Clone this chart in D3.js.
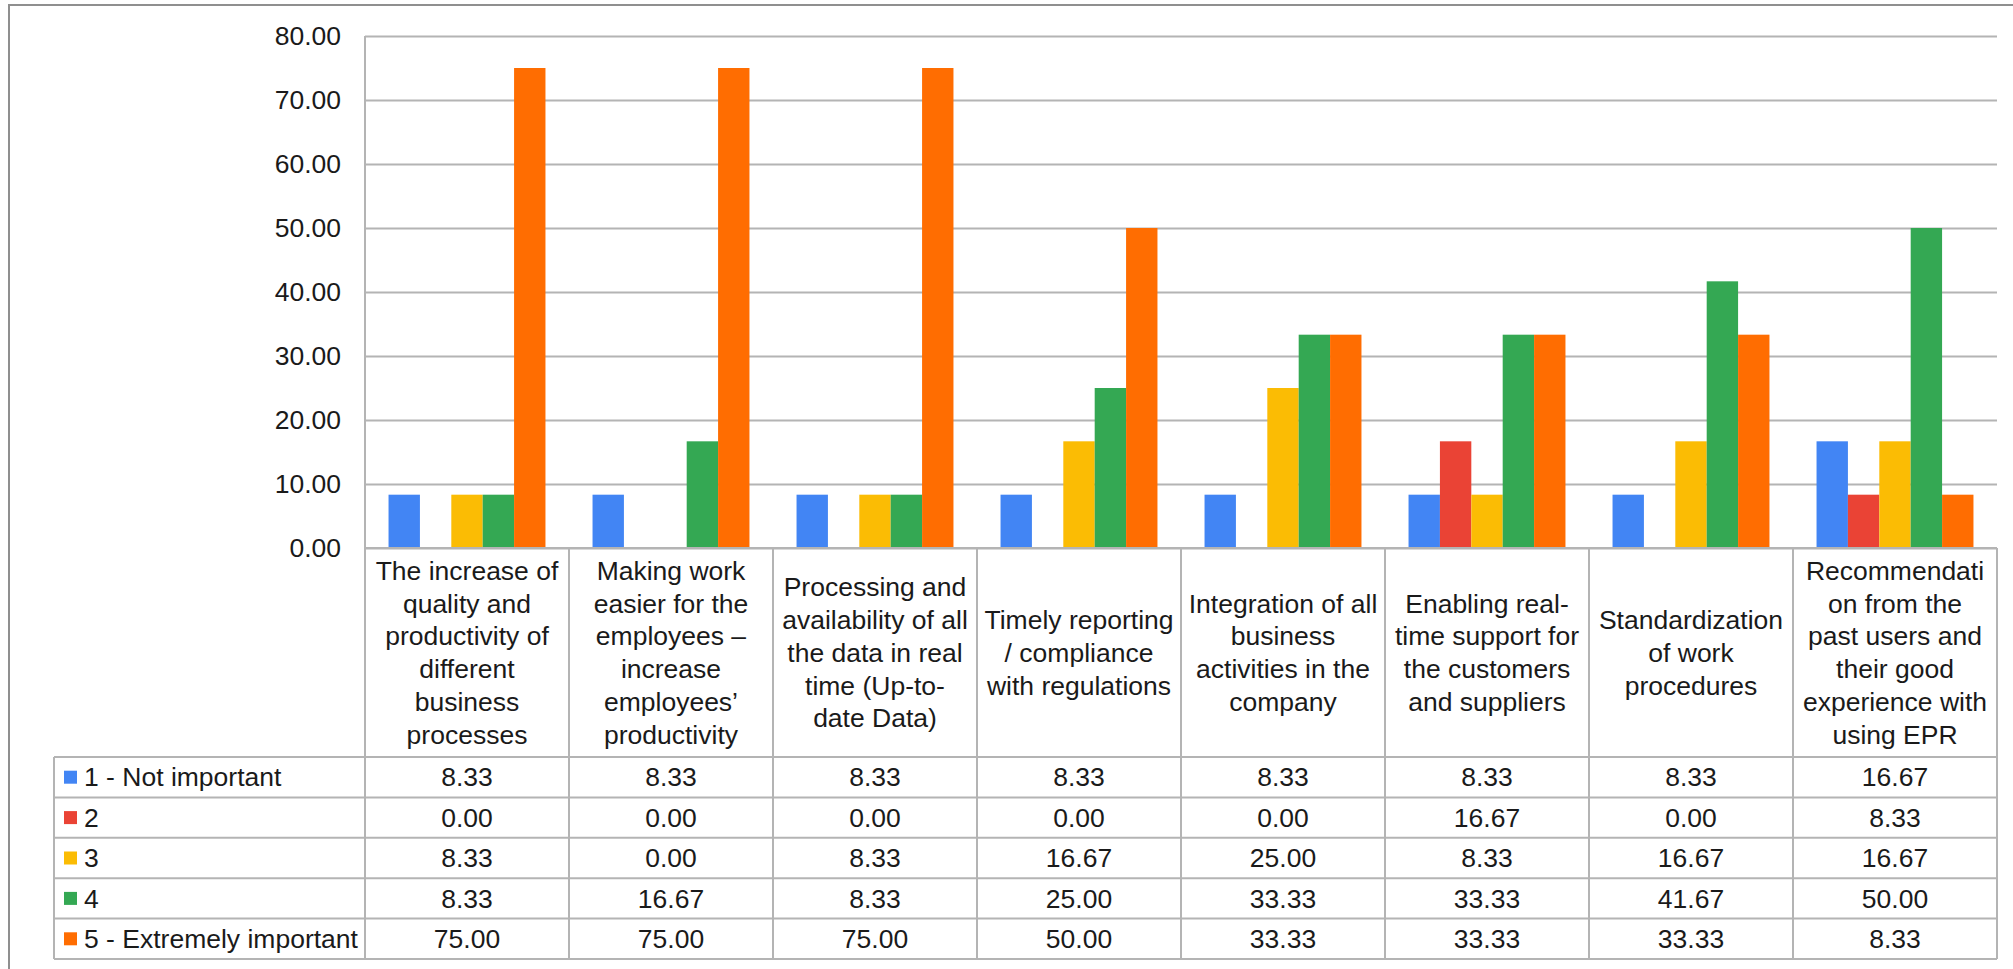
<!DOCTYPE html>
<html>
<head>
<meta charset="utf-8">
<script src="https://cdn.jsdelivr.net/npm/d3@7"></script>
<style>
  html, body { margin: 0; padding: 0; background: #fff; }
  svg { display: block; }
  text { font-family: "Liberation Sans", Arial, sans-serif; fill: #1a1a1a; }
</style>
</head>
<body>
<svg id="chart" width="2013" height="969"></svg>
<script>
// ---- data ----
const categories = [
  "The increase of\nquality and\nproductivity of\ndifferent\nbusiness\nprocesses",
  "Making work\neasier for the\nemployees –\nincrease\nemployees’\nproductivity",
  "Processing and\navailability of all\nthe data in real\ntime (Up-to-\ndate Data)",
  "Timely reporting\n/ compliance\nwith regulations",
  "Integration of all\nbusiness\nactivities in the\ncompany",
  "Enabling real-\ntime support for\nthe customers\nand suppliers",
  "Standardization\nof work\nprocedures",
  "Recommendati\non from the\npast users and\ntheir good\nexperience with\nusing EPR"
];
const seriesNames = ["1 - Not important", "2", "3", "4", "5 - Extremely important"];
const s1 = [8.33, 8.33, 8.33, 8.33, 8.33, 8.33, 8.33, 16.67];
const s2 = [0.00, 0.00, 0.00, 0.00, 0.00, 16.67, 0.00, 8.33];
const s3 = [8.33, 0.00, 8.33, 16.67, 25.00, 8.33, 16.67, 16.67];
const s4 = [8.33, 16.67, 8.33, 25.00, 33.33, 33.33, 41.67, 50.00];
const s5 = [75.00, 75.00, 75.00, 50.00, 33.33, 33.33, 33.33, 8.33];
const seriesValues = [s1, s2, s3, s4, s5];
const yTicks = [0, 10, 20, 30, 40, 50, 60, 70, 80];
const colors = ["#4285F4", "#EA4335", "#FBBC04", "#34A853", "#FF6D01"];

// ---- layout ----
const svg = d3.select("#chart");
const plotLeft = 365, plotRight = 1997, plotTop = 36, plotBottom = 548;
const headerBottom = 757, tableBottom = 959, legendLeft = 54;
const fontSize = 26.5;
const gridColor = "#b4b4b4";

// outer border
svg.append("path")
  .attr("d", `M9,969 V5 H2013`)
  .attr("fill", "none").attr("stroke", "#8f8f8f").attr("stroke-width", 2);

const x0 = d3.scaleBand().domain(d3.range(categories.length)).range([plotLeft, plotRight]);
const x1 = d3.scaleBand().domain(d3.range(seriesNames.length)).range([0, x0.bandwidth()])
  .paddingInner(0).paddingOuter(0.75);
const y = d3.scaleLinear().domain([0, 80]).range([plotBottom, plotTop]);

// gridlines
const grid = svg.append("g").attr("transform", `translate(${plotLeft},0)`)
  .call(d3.axisLeft(y).tickValues(yTicks).tickSize(-(plotRight - plotLeft)).tickFormat(""));
grid.select(".domain").remove();
grid.selectAll("line").attr("stroke", gridColor).attr("stroke-width", 2);

// y axis labels
const yAxis = svg.append("g").attr("transform", `translate(${plotLeft},0)`)
  .call(d3.axisLeft(y).tickValues(yTicks).tickSize(0).tickPadding(24).tickFormat(d3.format(".2f")));
yAxis.select(".domain").remove();
yAxis.selectAll("text").attr("font-size", fontSize).attr("font-family", "Liberation Sans, Arial, sans-serif").attr("fill", "#1a1a1a");

// left axis line of plot
svg.append("line").attr("x1", plotLeft).attr("x2", plotLeft).attr("y1", plotTop).attr("y2", plotBottom)
  .attr("stroke", gridColor).attr("stroke-width", 2);

// bars
const groups = svg.append("g").selectAll("g").data(categories).join("g")
  .attr("transform", (d, i) => `translate(${x0(i)},0)`);
groups.selectAll("rect")
  .data((d, i) => seriesValues.map((s, j) => ({ j, v: s[i] })))
  .join("rect")
  .attr("x", d => x1(d.j))
  .attr("width", x1.bandwidth())
  .attr("y", d => y(d.v))
  .attr("height", d => plotBottom - y(d.v))
  .attr("fill", d => colors[d.j]);

// ---- data table ----
const rowScale = d3.scaleBand().domain(d3.range(seriesNames.length)).range([headerBottom, tableBottom]);
const table = svg.append("g");

// horizontal lines
table.append("line").attr("x1", plotLeft).attr("x2", plotRight).attr("y1", plotBottom).attr("y2", plotBottom)
  .attr("stroke", gridColor).attr("stroke-width", 2);
const hLines = [headerBottom].concat(d3.range(seriesNames.length).map(i => rowScale(i) + rowScale.bandwidth()));
table.selectAll("line.h").data(hLines).join("line").attr("class", "h")
  .attr("x1", legendLeft).attr("x2", plotRight).attr("y1", d => d).attr("y2", d => d)
  .attr("stroke", gridColor).attr("stroke-width", 2);
// vertical lines
const vLines = d3.range(categories.length + 1).map(i => i < categories.length ? x0(i) : plotRight);
table.selectAll("line.v").data(vLines).join("line").attr("class", "v")
  .attr("x1", d => d).attr("x2", d => d).attr("y1", plotBottom).attr("y2", tableBottom)
  .attr("stroke", gridColor).attr("stroke-width", 2);
table.append("line").attr("x1", legendLeft).attr("x2", legendLeft).attr("y1", headerBottom).attr("y2", tableBottom)
  .attr("stroke", gridColor).attr("stroke-width", 2);

// header labels
const lineH = 32.8;
const headerMid = (plotBottom + headerBottom) / 2;
categories.forEach((c, i) => {
  const lines = c.split("\n");
  const cx = x0(i) + x0.bandwidth() / 2;
  const t = table.append("text").attr("text-anchor", "middle").attr("font-size", fontSize);
  lines.forEach((ln, k) => {
    t.append("tspan").attr("x", cx)
      .attr("y", headerMid + (k - (lines.length - 1) / 2) * lineH)
      .attr("dy", "0.35em").text(ln);
  });
});

// legend column
seriesNames.forEach((s, j) => {
  const cy = rowScale(j) + rowScale.bandwidth() / 2;
  table.append("rect").attr("x", 64).attr("y", cy - 6.5).attr("width", 13).attr("height", 13).attr("fill", colors[j]);
  table.append("text").attr("x", 84).attr("y", cy).attr("dy", "0.35em").attr("font-size", fontSize).text(s);
  seriesValues[j].forEach((v, i) => {
    table.append("text").attr("x", x0(i) + x0.bandwidth() / 2).attr("y", cy).attr("dy", "0.35em")
      .attr("text-anchor", "middle").attr("font-size", fontSize).text(d3.format(".2f")(v));
  });
});
</script>
</body>
</html>
